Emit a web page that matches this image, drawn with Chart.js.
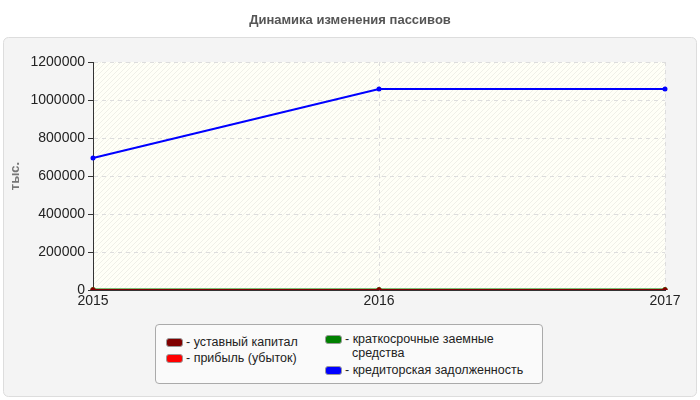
<!DOCTYPE html>
<html><head><meta charset="utf-8">
<script src="https://cdn.jsdelivr.net/npm/chart.js@4"></script>
<style>
body{margin:0;background:#fff;font-family:"Liberation Sans",Arial,sans-serif;}
#wrap{position:relative;width:700px;height:400px;}
#legend{position:absolute;left:155px;top:324px;width:386px;height:58px;border:1px solid #aaa;border-radius:4px;background:#fafafa;font-size:12.5px;color:#222;}
.it{position:absolute;line-height:14px;}
.sw{position:absolute;left:0;top:3px;width:15px;height:7px;border:1px solid #999;border-radius:3px;}
.tx{position:absolute;left:20px;top:0;white-space:nowrap;}
</style></head><body>
<div id="wrap"><canvas id="c" width="700" height="400"></canvas>
<div id="legend"></div></div>
<script>
const categories=['2015','2016','2017'];
const seriesNames=['уставный капитал','прибыль (убыток)','краткосрочные заемные средства','кредиторская задолженность'];
const seriesColors=['#800000','#ff0000','#008000','#0000ff'];
const capital=[0,0,0];
const profit=[0,0,0];
const shortLoans=[3000,3000,3000];
const payables=[695000,1058000,1058000];
const yTicks=[0,200000,400000,600000,800000,1000000,1200000];
const allData=[capital,profit,shortLoans,payables];

const leg=document.getElementById('legend');
const pos=[[10,10,'- уставный капитал'],[10,26,'- прибыль (убыток)'],[169,7,'- краткосрочные заемные<br>&nbsp;&nbsp;средства'],[169,38,'- кредиторская задолженность']];
pos.forEach((p,i)=>{const d=document.createElement('div');d.className='it';d.style.left=p[0]+'px';d.style.top=p[1]+'px';
d.innerHTML='<div class="sw" style="background:'+seriesColors[i]+'"></div><div class="tx">'+p[2]+'</div>';leg.appendChild(d);});

const bg={id:'bg',beforeDraw(ch){const c=ch.ctx,a=ch.chartArea;c.save();
c.fillStyle='#fff';c.fillRect(0,0,700,400);
c.fillStyle='#f4f4f4';c.strokeStyle='#ddd';c.beginPath();c.roundRect(3.5,37.5,693,359,5);c.fill();c.stroke();
c.fillStyle='#555';c.font='bold 13px "Liberation Sans",Arial';c.textAlign='center';c.textBaseline='middle';c.fillText('Динамика изменения пассивов',350,20);
c.fillStyle='#fffff7';c.fillRect(a.left,a.top,a.right-a.left,a.bottom-a.top);
c.beginPath();c.rect(a.left,a.top,a.right-a.left,a.bottom-a.top);c.clip();
c.strokeStyle='#f0f0e8';c.lineWidth=1;
for(let x=a.left-300;x<a.right+300;x+=5){c.beginPath();c.moveTo(x,a.bottom);c.lineTo(x+(a.bottom-a.top),a.top);c.stroke();}
c.restore();}};

new Chart(document.getElementById('c'),{type:'line',
data:{labels:categories,datasets:allData.map((d,i)=>({label:seriesNames[i],data:d,borderColor:seriesColors[i],backgroundColor:seriesColors[i],borderWidth:2,pointRadius:1.5,tension:0}))},
options:{responsive:false,animation:false,
layout:{padding:{top:62,right:35,left:8,bottom:0}},
plugins:{legend:{display:false},tooltip:{enabled:false}},
scales:{
x:{offset:false,afterFit(s){s.height=110;},border:{color:'#333',dash:[4,4]},grid:{color:'#ddd',drawTicks:false},
 ticks:{color:'#222',font:{size:14,family:'"Liberation Sans",Arial'},padding:3,maxRotation:0,autoSkip:false}},
y:{min:0,max:1200000,afterFit(s){s.width=85;},afterBuildTicks(s){s.ticks=yTicks.map(v=>({value:v}));},border:{color:'#333',dash:[4,4]},
 grid:{color:'#ddd',tickLength:5,tickColor:'#333'},
 ticks:{color:'#222',font:{size:14,family:'"Liberation Sans",Arial'},padding:3,callback:v=>String(v)},
 title:{display:true,text:'тыс.',color:'#777',font:{size:13,weight:'bold',family:'"Liberation Sans",Arial'},padding:0}}
}},plugins:[bg]});
</script></body></html>
